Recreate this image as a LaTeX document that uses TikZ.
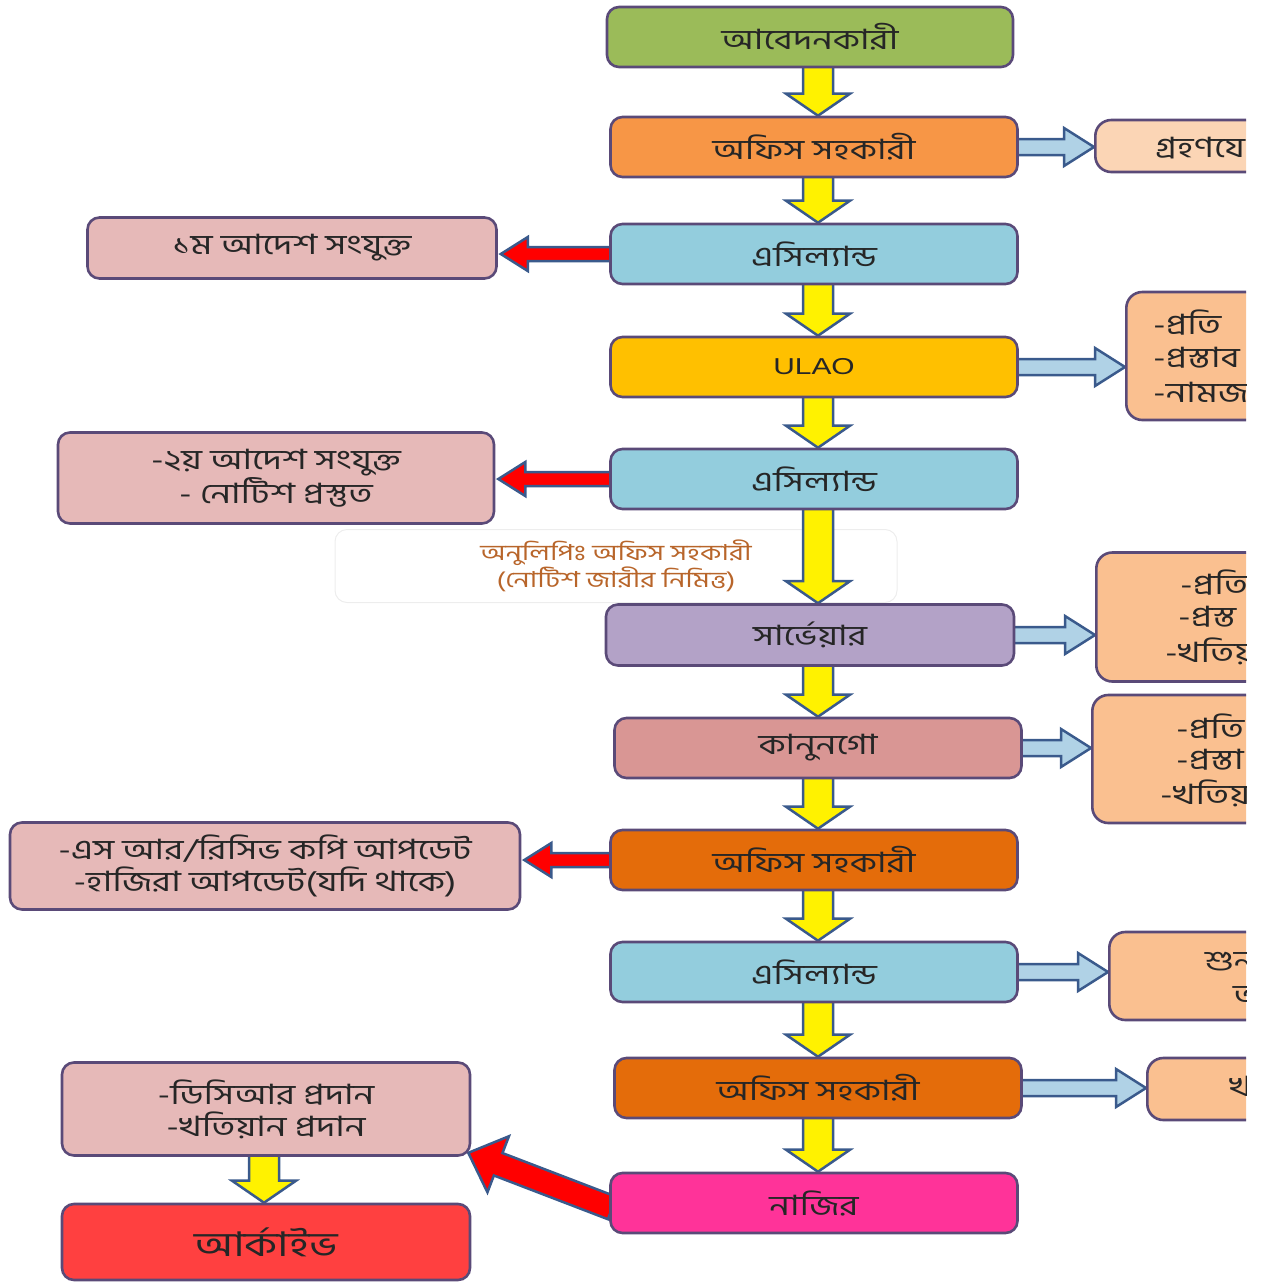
\documentclass[tikz,border=0pt]{standalone}
\usepackage{fontspec}
\setmainfont{Liberation Sans}
\newfontfamily\bn[Script=Bengali, FakeStretch=1.3]{Hind Siliguri}
\newfontfamily\ulaofont[FakeStretch=1.3]{Liberation Sans}
\usetikzlibrary{calc}
\pgfdeclarelayer{bg}
\pgfsetlayers{bg,main}
\definecolor{boxline}{HTML}{5A4A78}
\definecolor{arrline}{HTML}{3A5A8C}
\definecolor{arrblue}{HTML}{B0D2E6}
\definecolor{txt}{HTML}{262626}
\definecolor{cgreen}{HTML}{9BBB59}
\definecolor{corange}{HTML}{F79646}
\definecolor{cblue}{HTML}{93CDDD}
\definecolor{cgold}{HTML}{FFC000}
\definecolor{cpurple}{HTML}{B3A2C7}
\definecolor{ckanun}{HTML}{D99694}
\definecolor{cdorange}{HTML}{E46C0A}
\definecolor{cpink}{HTML}{FF3399}
\definecolor{lpink}{HTML}{E6B9B8}
\definecolor{cred}{HTML}{FF4040}
\definecolor{rpeach}{HTML}{FAC090}
\definecolor{rpeachl}{HTML}{FBD5B5}
\definecolor{notetxt}{HTML}{B8652A}
\newcommand\darr[3]{%
  \draw[yarr] let \p1=(#2.south), \p2=(#3.north) in
  ({#1pt-15pt},{\y1+2pt}) -- ({#1pt+15pt},{\y1+2pt}) -- ({#1pt+15pt},{\y2+22pt})
  -- ({#1pt+32pt},{\y2+22pt}) -- ({#1pt},{\y2}) -- ({#1pt-32pt},{\y2+22pt})
  -- ({#1pt-15pt},{\y2+22pt}) -- cycle;}
\newcommand\larr[2]{%
  \draw[redarr] let \p1=(#1.west), \p2=(#2.east) in
  ({\x1+2pt},{\y1+7pt}) -- ({\x2+30pt},{\y1+7pt}) -- ({\x2+30pt},{\y1+17pt})
  -- ({\x2+3pt},{\y1}) -- ({\x2+30pt},{\y1-17pt}) -- ({\x2+30pt},{\y1-7pt})
  -- ({\x1+2pt},{\y1-7pt}) -- cycle;}
\newcommand\rarr[2]{%
  \draw[barr] let \p1=(#1.east), \p2=(#2.west) in
  ({\x1-2pt},{\y1+8pt}) -- ({\x2-30pt},{\y1+8pt}) -- ({\x2-30pt},{\y1+19pt})
  -- ({\x2},{\y1}) -- ({\x2-30pt},{\y1-19pt}) -- ({\x2-30pt},{\y1-8pt})
  -- ({\x1-2pt},{\y1-8pt}) -- cycle;}
\begin{document}
\begin{tikzpicture}[x=1pt,y=-1pt,
  box/.style={draw=boxline, line width=2.6pt, rounded corners=12pt,
    minimum width=407pt, minimum height=60pt, inner sep=0pt, align=center,
    text=txt, font=\bn\fontsize{28}{32}\selectfont},
  rbox/.style={box, anchor=west, minimum width=300pt, rounded corners=16pt},
  rtxt/.style={anchor=west, inner sep=0pt, text=txt, font=\bn\fontsize{28}{30}\selectfont},
  yarr/.style={fill=yellow, draw=arrline, line width=2.5pt},
  redarr/.style={fill=red, draw=arrline, line width=2.5pt},
  barr/.style={fill=arrblue, draw=arrline, line width=2.5pt}]
\useasboundingbox (0,0) rectangle (1266,1282);
\clip (0,0) rectangle (1246,1282);
% centre column
\node[box, fill=cgreen, minimum width=406pt] (n1) at (810,37) {আবেদনকারী};
\node[box, fill=corange] (n2) at (814,147) {অফিস সহকারী};
\node[box, fill=cblue] (n3) at (814,254) {এসিল্যান্ড};
\node[box, fill=cgold, font=\ulaofont\fontsize{23}{26}\selectfont] (n4) at (814,367) {ULAO};
\node[box, fill=cblue] (n5) at (814,479) {এসিল্যান্ড};
\node[box, fill=cpurple, minimum width=408pt, minimum height=61pt] (n6) at (810,635) {সার্ভেয়ার};
\node[box, fill=ckanun] (n7) at (818,748) {কানুনগো};
\node[box, fill=cdorange] (n8) at (814,860) {অফিস সহকারী};
\node[box, fill=cblue] (n9) at (814,972) {এসিল্যান্ড};
\node[box, fill=cdorange] (n10) at (818,1088) {অফিস সহকারী};
\node[box, fill=cpink] (n11) at (814,1203) {নাজির};
% left column
\node[box, fill=lpink, minimum width=409pt, minimum height=61pt] (l1) at (292,248) {১ম আদেশ সংযুক্ত};
\node[box, fill=lpink, minimum width=436pt, minimum height=91pt] (l2) at (276,478) {-২য় আদেশ সংযুক্ত\\- নোটিশ প্রস্তুত};
\node[box, fill=lpink, minimum width=510pt, minimum height=87pt] (l3) at (265,866) {-এস আর/রিসিভ কপি আপডেট\\-হাজিরা আপডেট(যদি থাকে)};
\node[box, fill=lpink, minimum width=408pt, minimum height=93pt] (l4) at (266,1109) {-ডিসিআর প্রদান\\-খতিয়ান প্রদান};
\node[box, fill=cred, minimum width=408pt, minimum height=76pt, font=\bn\fontsize{34}{38}\selectfont] (l5) at (266,1242) {আর্কাইভ};
% right column (cut by the picture edge)
\node[rbox, fill=rpeachl, minimum height=52pt] (r1) at (1094,146) {};
\node[rbox, fill=rpeach, minimum height=128pt] (r2) at (1125,356) {};
\node[rbox, fill=rpeach, minimum height=129pt] (r3) at (1095,617) {};
\node[rbox, fill=rpeach, minimum height=128pt] (r4) at (1091,759) {};
\node[rbox, fill=rpeach, minimum height=88pt] (r5) at (1108,976) {};
\node[rbox, fill=rpeach, minimum height=62pt] (r6) at (1146,1089) {};
\node[rtxt] (t1) at (1155,148) {গ্রহণযে};
\node[rtxt] (t2a) at (1153,323) {-প্রতি};
\node[rtxt] (t2b) at (1153,358) {-প্রস্তাব};
\node[rtxt] (t2c) at (1153,392) {-নামজ};
\node[rtxt] (t3a) at (1180,583) {-প্রতি};
\node[rtxt] (t3b) at (1178,617) {-প্রস্ত};
\node[rtxt] (t3c) at (1165,651) {-খতিয়};
\node[rtxt] (t4a) at (1176,727) {-প্রতি};
\node[rtxt] (t4b) at (1176,760) {-প্রস্তা};
\node[rtxt] (t4c) at (1160,793) {-খতিয়};
\node[rtxt] (t5a) at (1205,962) {শুন};
\node[rtxt] (t5b) at (1233,995) {অ};
\node[rtxt] (t6) at (1229,1086) {খ};
\begin{pgfonlayer}{bg}
\node[draw=black!7, line width=1pt, rounded corners=12pt, minimum width=562pt,
  minimum height=73pt, align=center, text=notetxt,
  font=\bn\fontsize{22}{27}\selectfont] (note) at (616,566)
  {অনুলিপিঃ অফিস সহকারী\\(নোটিশ জারীর নিমিত্ত)};
\darr{818}{n1}{n2}
\darr{818}{n2}{n3}
\darr{818}{n3}{n4}
\darr{818}{n4}{n5}
\darr{818}{n5}{n6}
\darr{818}{n6}{n7}
\darr{818}{n7}{n8}
\darr{818}{n8}{n9}
\darr{818}{n9}{n10}
\darr{818}{n10}{n11}
\darr{264}{l4}{l5}
\larr{n3}{l1}
\larr{n5}{l2}
\larr{n8}{l3}
\rarr{n2}{r1}
\rarr{n4}{r2}
\rarr{n6}{r3}
\rarr{n7}{r4}
\rarr{n9}{r5}
\rarr{n10}{r6}
\coordinate (da) at ($(n11.west)+(3,5)$);
\coordinate (db) at ($(l4.south east)+(-3,-4)$);
\coordinate (dh) at ($(db)!32pt!(da)$);
\draw[redarr] ($(da)!12pt!90:(db)$) -- ($(dh)!12pt!90:(db)$) -- ($(dh)!30pt!90:(db)$)
  -- (db) -- ($(dh)!30pt!-90:(db)$) -- ($(dh)!12pt!-90:(db)$)
  -- ($(da)!12pt!-90:(db)$) -- cycle;
\end{pgfonlayer}
\end{tikzpicture}
\end{document}
